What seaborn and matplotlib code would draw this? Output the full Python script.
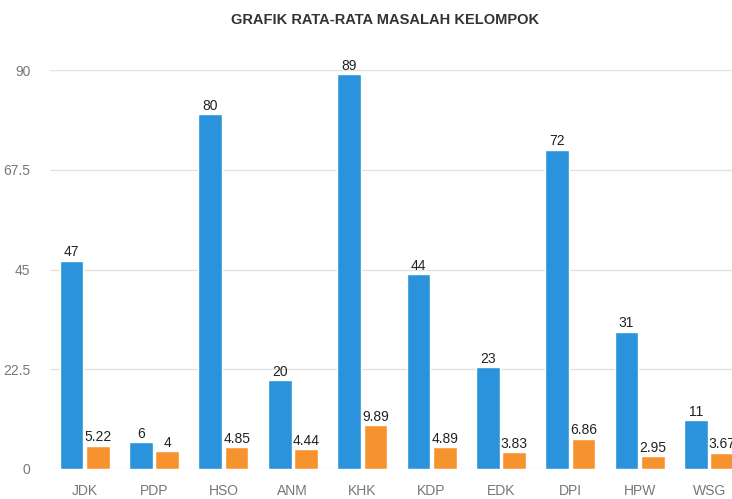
import pandas as pd
import numpy as np
import matplotlib.pyplot as plt
import seaborn as sns

categories = ['JDK', 'PDP', 'HSO', 'ANM', 'KHK', 'KDP', 'EDK', 'DPI', 'HPW', 'WSG']
blue_values = [47, 6, 80, 20, 89, 44, 23, 72, 31, 11]
orange_values = [5.22, 4, 4.85, 4.44, 9.89, 4.89, 3.83, 6.86, 2.95, 3.67]
blue_labels = ['47', '6', '80', '20', '89', '44', '23', '72', '31', '11']
orange_labels = ['5.22', '4', '4.85', '4.44', '9.89', '4.89', '3.83', '6.86', '2.95', '3.67']
y_ticks = [0, 22.5, 45, 67.5, 90]
y_tick_labels = ['0', '22.5', '45', '67.5', '90']

df = pd.DataFrame({
    'kelompok': categories * 2,
    'nilai': blue_values + orange_values,
    'seri': ['a'] * len(categories) + ['b'] * len(categories),
})

sns.set_style('white')
plt.rcParams['font.family'] = ['Liberation Sans', 'DejaVu Sans']

fig = plt.figure(figsize=(7.32, 4.99), dpi=100)
ax = fig.add_axes([50 / 732, 30 / 499, 682 / 732, 399 / 499])

sns.barplot(data=df, x='kelompok', y='nilai', hue='seri', order=categories,
            palette=['#2A93DB', '#F7932F'], width=0.76, gap=0.1,
            saturation=1, legend=False, ax=ax)

for container, labels in zip(ax.containers, [blue_labels, orange_labels]):
    ax.bar_label(container, labels=labels, padding=1, fontsize=10,
                 color='#222222', clip_on=False)

ax.set_ylim(0, 90)
# the original picture is cropped on the right, through the last group
ax.set_xlim(-0.5, 9.33)
ax.set_yticks(y_ticks)
ax.set_yticklabels(y_tick_labels)
ax.yaxis.grid(True, color='#e2e2e2', linewidth=1)
ax.set_axisbelow(True)
for s in ax.spines.values():
    s.set_visible(False)
ax.tick_params(axis='both', length=0, colors='#777777', labelsize=10)
ax.tick_params(axis='y', pad=14)
ax.tick_params(axis='x', pad=11)
ax.set_xlabel('')
ax.set_ylabel('')

fig.text(385 / 732, 1 - 20 / 499, 'GRAFIK RATA-RATA MASALAH KELOMPOK',
         ha='center', va='center', fontsize=10.5, fontweight='bold', color='#333333')

fig.savefig('out.png', dpi=100)
